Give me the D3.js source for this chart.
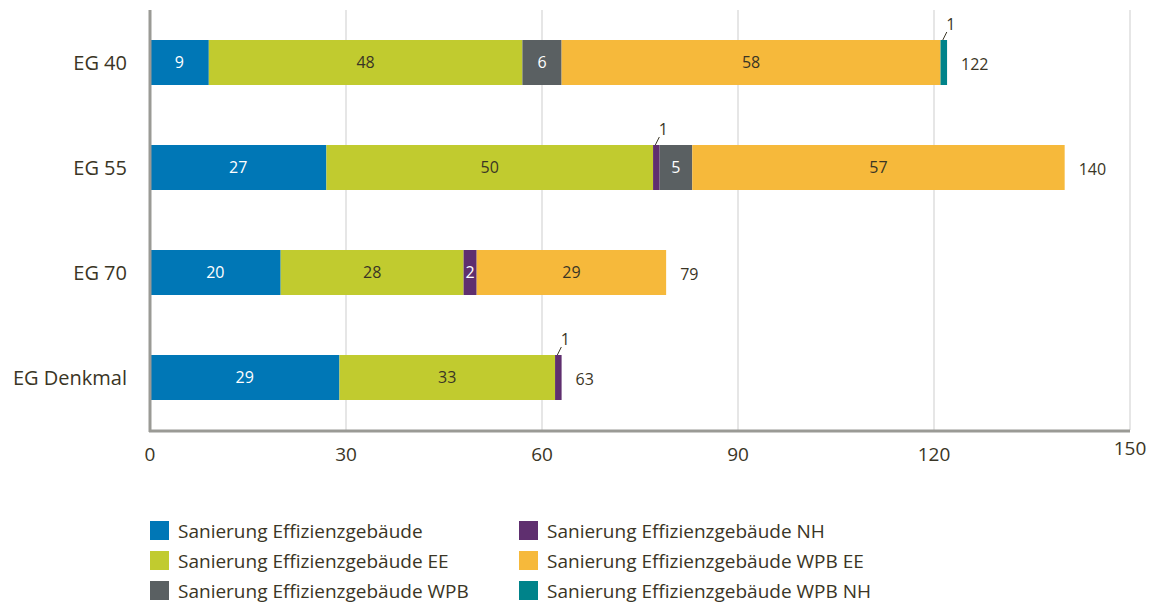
<!DOCTYPE html>
<html>
<head>
<meta charset="utf-8">
<script src="https://cdn.jsdelivr.net/npm/d3@7"></script>
<style>
  body { margin: 0; background: #fff; }
  svg text { font-family: "Open Sans", sans-serif; fill: #3a3525; }
</style>
</head>
<body>
<svg id="chart" width="1152" height="605"></svg>
<script>
const categories = ["EG 40", "EG 55", "EG 70", "EG Denkmal"];
const seriesNames = [
  "Sanierung Effizienzgebäude",
  "Sanierung Effizienzgebäude EE",
  "Sanierung Effizienzgebäude NH",
  "Sanierung Effizienzgebäude WPB",
  "Sanierung Effizienzgebäude WPB EE",
  "Sanierung Effizienzgebäude WPB NH"
];
const seriesColors = ["#0077b6", "#c1cb2f", "#5f2f6f", "#5a6062", "#f6b93b", "#00838a"];
const labelColors = ["#fff", "#3a3525", "#fff", "#fff", "#3a3525", "#3a3525"];
// values per category, in series order
const effizienz    = [9, 27, 20, 29];
const effizienzEE  = [48, 50, 28, 33];
const effizienzNH  = [0, 1, 2, 1];
const effizienzWPB = [6, 5, 0, 0];
const wpbEE        = [58, 57, 29, 0];
const wpbNH        = [1, 0, 0, 0];
const xTicks = [0, 30, 60, 90, 120, 150];
// legend order: column by column
const legendOrder = [0, 1, 3, 2, 4, 5];

const allSeries = [effizienz, effizienzEE, effizienzNH, effizienzWPB, wpbEE, wpbNH];
const rows = categories.map((c, i) => {
  const r = { cat: c };
  seriesNames.forEach((s, j) => r[s] = allSeries[j][i]);
  return r;
});

const svg = d3.select("#chart");
const x = d3.scaleLinear().domain([0, 150]).range([150, 1130]);
const y = d3.scaleBand().domain(categories).range([10, 430])
  .paddingInner(0.5714).paddingOuter(0.2857);

// gridlines
svg.append("g")
  .selectAll("line")
  .data(xTicks.slice(1))
  .join("line")
    .attr("x1", d => x(d)).attr("x2", d => x(d))
    .attr("y1", 10).attr("y2", 430)
    .attr("stroke", "#d6d6d6").attr("stroke-width", 1.2);

const stack = d3.stack().keys(seriesNames);
const stacked = stack(rows);

const layer = svg.append("g")
  .selectAll("g")
  .data(stacked)
  .join("g")
    .attr("fill", (d, i) => seriesColors[i]);

layer.selectAll("rect")
  .data(d => d.map(v => Object.assign(v, { key: d.key, idx: d.index })))
  .join("rect")
    .attr("x", d => x(d[0]))
    .attr("y", d => y(d.data.cat))
    .attr("width", d => x(d[1]) - x(d[0]))
    .attr("height", y.bandwidth());

// segment labels
const segs = stacked.flatMap(s => s.map(v => v)).filter(v => v[1] - v[0] > 0);
svg.append("g")
  .selectAll("text")
  .data(segs.filter(v => v[1] - v[0] > 1))
  .join("text")
    .attr("x", d => (x(d[0]) + x(d[1])) / 2)
    .attr("y", d => y(d.data.cat) + y.bandwidth() / 2)
    .attr("dy", "0.36em")
    .attr("text-anchor", "middle")
    .attr("font-size", 16)
    .style("fill", d => labelColors[d.idx])
    .text(d => d[1] - d[0]);

// small labels with leader lines
const small = segs.filter(v => v[1] - v[0] === 1);
svg.append("g")
  .selectAll("line")
  .data(small)
  .join("line")
    .attr("x1", d => (x(d[0]) + x(d[1])) / 2 - 1)
    .attr("y1", d => y(d.data.cat))
    .attr("x2", d => (x(d[0]) + x(d[1])) / 2 + 3)
    .attr("y2", d => y(d.data.cat) - 8)
    .attr("stroke", "#3a3525").attr("stroke-width", 1);
svg.append("g")
  .selectAll("text")
  .data(small)
  .join("text")
    .attr("x", d => (x(d[0]) + x(d[1])) / 2 + 7)
    .attr("y", d => y(d.data.cat) - 10)
    .attr("text-anchor", "middle")
    .attr("font-size", 16)
    .text(d => d[1] - d[0]);

// totals
svg.append("g")
  .selectAll("text")
  .data(rows)
  .join("text")
    .attr("x", d => x(d3.sum(seriesNames, s => d[s])) + 14)
    .attr("y", d => y(d.cat) + y.bandwidth() / 2 + 2)
    .attr("dy", "0.36em")
    .attr("font-size", 16)
    .text(d => d3.sum(seriesNames, s => d[s]));

// category labels
svg.append("g")
  .selectAll("text")
  .data(categories)
  .join("text")
    .attr("x", 127)
    .attr("y", d => y(d) + y.bandwidth() / 2)
    .attr("dy", "0.36em")
    .attr("text-anchor", "end")
    .attr("font-size", 20)
    .text(d => d);

// axes lines
svg.append("line")
  .attr("x1", 150).attr("x2", 150).attr("y1", 10).attr("y2", 432)
  .attr("stroke", "#9a9a95").attr("stroke-width", 3);
svg.append("line")
  .attr("x1", 149).attr("x2", x(150)).attr("y1", 431).attr("y2", 431)
  .attr("stroke", "#9a9a95").attr("stroke-width", 3);

// tick labels
svg.append("g")
  .selectAll("text")
  .data(xTicks)
  .join("text")
    .attr("x", d => x(d))
    .attr("y", d => d === 150 ? 448 : 454)
    .attr("dy", "0.36em")
    .attr("text-anchor", "middle")
    .attr("font-size", 19)
    .text(d => d);

// legend
const leg = svg.append("g")
  .selectAll("g")
  .data(legendOrder)
  .join("g")
    .attr("transform", (d, i) => `translate(${i < 3 ? 150 : 519},${521 + (i % 3) * 30})`);
leg.append("rect")
  .attr("width", 19).attr("height", 19)
  .attr("fill", d => seriesColors[d]);
leg.append("text")
  .attr("x", 28).attr("y", 10)
  .attr("dy", "0.36em")
  .attr("font-size", 19)
  .text(d => seriesNames[d]);
</script>
</body>
</html>
